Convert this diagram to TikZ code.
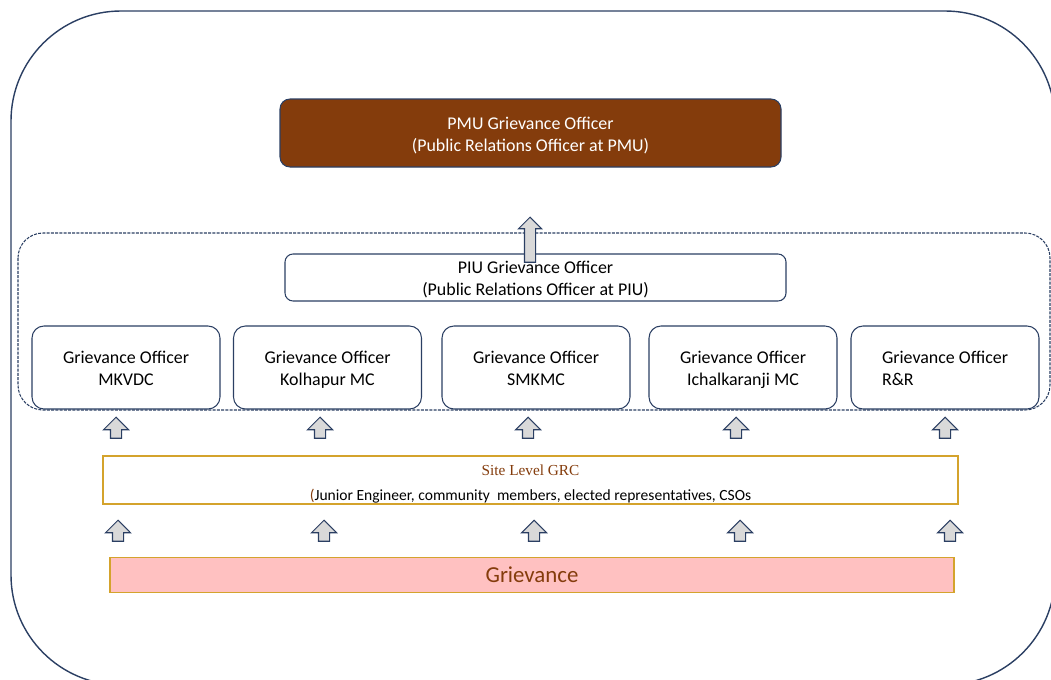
\documentclass[tikz,border=0pt]{standalone}
\usepackage{fontspec}
\setmainfont{Carlito}
\newfontfamily\grcfont{Liberation Serif}
\usetikzlibrary{shapes.arrows}
\definecolor{navy}{HTML}{2B3F63}
\definecolor{pmubrown}{HTML}{843C0C}
\definecolor{gold}{HTML}{D4A32C}
\definecolor{pinkfill}{HTML}{FFC1C1}
\definecolor{arrowgray}{HTML}{D9D9D9}

\begin{document}
\begin{tikzpicture}[x=0.2mm,y=-0.2mm,
        officer/.style={draw=navy,fill=white,line width=0.6pt,rounded corners=2.4mm,
            minimum width=37.6mm,minimum height=16.6mm,align=center,inner sep=0pt,
            font=\fontsize{10.2}{13}\selectfont,text height=24pt,text depth=3pt},
        wide/.style={draw=navy,line width=0.6pt,minimum width=100.2mm,align=center,inner sep=0pt,
            font=\fontsize{10.2}{12.7}\selectfont},
        uparrow/.style={single arrow,shape border rotate=90,draw=navy,fill=arrowgray,line width=0.6pt,
            inner sep=1mm,single arrow head extend=1.4mm,minimum height=4.2mm,minimum width=0pt}]

    \clip (0,0) rectangle (1051,679);
    \draw[navy,line width=0.8pt,rounded corners=22mm] (11,11) rectangle (1055,685);
    \draw[navy,line width=0.6pt,dash pattern=on 0.6mm off 0.25mm,rounded corners=5mm] (18,233) rectangle (1050,410);

    % top levels
    \node[wide,fill=pmubrown,text=white,rounded corners=2mm,minimum height=13.6mm,
        text height=24.6pt,text depth=3pt] (pmu) at (530.5,133)
        {PMU Grievance Officer\\(Public Relations Officer at PMU)};
    \node[wide,fill=white,rounded corners=1.6mm,minimum height=9.4mm,
        text height=23pt,text depth=2pt] (piu) at (535.5,277.5)
        {PIU Grievance Officer\\(Public Relations Officer at PIU)};
    \node[uparrow,minimum height=9mm,single arrow head extend=1.2mm] (piuup) at (530,242.5) {};

    % grievance officers
    \node[officer] (mkvdc) at (126,367.5) {Grievance Officer\\MKVDC};
    \node[officer] (kmc) at (327.5,367.5) {Grievance Officer\\Kolhapur MC};
    \node[officer] (smkmc) at (536,367.5) {Grievance Officer\\SMKMC};
    \node[officer] (imc) at (743,367.5) {Grievance Officer\\Ichalkaranji MC};
    \node[officer,align=left] (rr) at (945,367.5) {Grievance Officer\\R\&R};

    \node[uparrow] (up1) at (116,430.5) {};
    \node[uparrow] (up2) at (320,430.5) {};
    \node[uparrow] (up3) at (528,430.5) {};
    \node[uparrow] (up4) at (736,430.5) {};
    \node[uparrow] (up5) at (945,430.5) {};

    % site level
    \node[draw=gold,fill=white,line width=0.8pt,minimum width=171mm,minimum height=9.6mm,align=center,
        inner sep=0pt,font=\fontsize{8.85}{14.7}\selectfont,text height=25.3pt,text depth=1.5pt] (grc) at (530.5,480)
        {{\grcfont\fontsize{8.7}{10}\selectfont\color{pmubrown}Site Level GRC}\\
         {\color{pmubrown}(}Junior Engineer, community\ \ members, elected representatives, CSOs};

    \node[uparrow] (low1) at (118,533.5) {};
    \node[uparrow] (low2) at (324,533.5) {};
    \node[uparrow] (low3) at (534,533.5) {};
    \node[uparrow] (low4) at (740,533.5) {};
    \node[uparrow] (low5) at (950,533.5) {};

    \node[draw=gold,fill=pinkfill,line width=0.8pt,minimum width=168.8mm,minimum height=7mm,inner sep=0pt,
        text=pmubrown,font=\fontsize{13}{15}\selectfont] (griev) at (532,575) {Grievance};
\end{tikzpicture}
\end{document}
